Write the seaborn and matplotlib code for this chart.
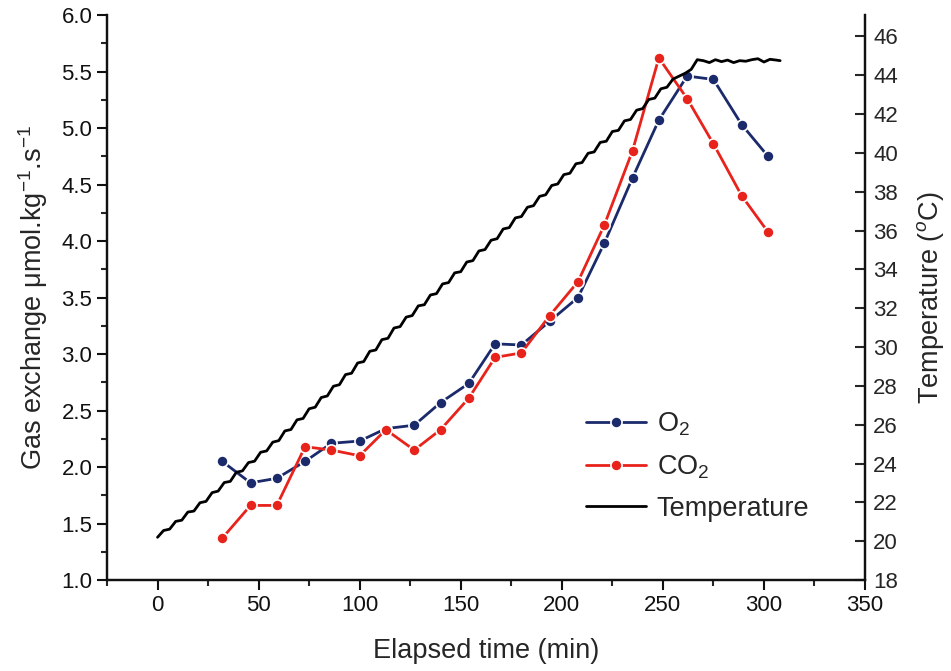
import numpy as np
import pandas as pd
import matplotlib
matplotlib.use('Agg')
import matplotlib.pyplot as plt
import seaborn as sns
from matplotlib.ticker import MultipleLocator

# gas exchange samples
time_gas = [32, 46, 59, 73, 86, 100, 113, 127, 140, 154, 167, 180, 194, 208, 221, 235, 248, 262, 275, 289, 302]
o2 = [2.05, 1.86, 1.90, 2.05, 2.21, 2.23, 2.34, 2.37, 2.57, 2.74, 3.09, 3.08, 3.29, 3.50, 3.98, 4.56, 5.07, 5.46, 5.43, 5.03, 4.75]
co2 = [1.37, 1.66, 1.66, 2.18, 2.15, 2.10, 2.33, 2.15, 2.33, 2.61, 2.97, 3.01, 3.34, 3.64, 4.14, 4.80, 5.62, 5.26, 4.86, 4.40, 4.08]

# temperature trace
time_temp = [0, 3, 6, 9, 12, 15, 18, 21, 24, 27, 30, 33, 36, 39, 42, 45, 48, 51, 54, 57,
             60, 63, 66, 69, 72, 75, 78, 81, 84, 87, 90, 93, 96, 99, 102, 105, 108, 111, 114, 117,
             120, 123, 126, 129, 132, 135, 138, 141, 144, 147, 150, 153, 156, 159, 162, 165, 168, 171, 174, 177,
             180, 183, 186, 189, 192, 195, 198, 201, 204, 207, 210, 213, 216, 219, 222, 225, 228, 231, 234, 237,
             240, 243, 246, 249, 252, 255, 258, 261, 264, 267, 270, 273, 276, 279, 282, 285, 288, 291, 294, 297,
             300, 303, 306, 308]
temp = [20.20, 20.55, 20.62, 21.02, 21.08, 21.50, 21.55, 21.98, 22.05, 22.50, 22.58, 23.02, 23.08, 23.55, 23.62, 24.05, 24.12, 24.58, 24.65, 25.10,
        25.18, 25.68, 25.75, 26.25, 26.32, 26.82, 26.90, 27.40, 27.48, 27.98, 28.06, 28.58, 28.65, 29.18, 29.25, 29.78, 29.85, 30.38, 30.45, 30.98,
        31.05, 31.54, 31.62, 32.12, 32.18, 32.68, 32.75, 33.25, 33.32, 33.82, 33.88, 34.38, 34.45, 34.95, 35.02, 35.50, 35.58, 36.08, 36.15, 36.65,
        36.72, 37.20, 37.28, 37.76, 37.84, 38.32, 38.40, 38.88, 38.95, 39.44, 39.50, 39.98, 40.05, 40.54, 40.60, 41.10, 41.16, 41.65, 41.72, 42.20,
        42.28, 42.75, 42.82, 43.30, 43.38, 43.80, 43.95, 44.10, 44.30, 44.80, 44.75, 44.65, 44.80, 44.70, 44.78, 44.65, 44.75, 44.72, 44.80, 44.85,
        44.68, 44.82, 44.78, 44.75]

df_gas = pd.DataFrame({'time': time_gas, 'O2': o2, 'CO2': co2})
df_temp = pd.DataFrame({'time': time_temp, 'temp': temp})

sns.set_style('ticks')
plt.rcParams['font.family'] = ['Liberation Sans', 'DejaVu Sans']
plt.rcParams['mathtext.fontset'] = 'custom'
plt.rcParams['mathtext.rm'] = 'Liberation Sans'
plt.rcParams['mathtext.it'] = 'Liberation Sans:italic'

navy = '#1b2a6b'
red = '#e8231b'

fig = plt.figure(figsize=(9.51, 6.71), dpi=100)
ax = fig.add_axes([0.1125, 0.1356, 0.7971, 0.842])
ax2 = ax.twinx()

sns.lineplot(data=df_gas, x='time', y='O2', ax=ax, color=navy, lw=2, marker='o',
             markersize=8, markeredgecolor='white', markeredgewidth=1.2, label='O$_2$')
sns.lineplot(data=df_gas, x='time', y='CO2', ax=ax, color=red, lw=2, marker='o',
             markersize=8, markeredgecolor='white', markeredgewidth=1.2, label='CO$_2$')
sns.lineplot(data=df_temp, x='time', y='temp', ax=ax2, color='black', lw=2, label='Temperature')

ax.set_xlim(-25, 350)
ax.set_ylim(1.0, 6.0)
ax2.set_ylim(18, 47.1)

ax.xaxis.set_major_locator(MultipleLocator(50))
ax.xaxis.set_minor_locator(MultipleLocator(25))
ax.yaxis.set_major_locator(MultipleLocator(0.5))
ax.yaxis.set_minor_locator(MultipleLocator(0.25))
ax.yaxis.set_major_formatter(matplotlib.ticker.FormatStrFormatter('%.1f'))
ax2.set_yticks(np.arange(18, 47, 2))

ax.tick_params(axis='both', which='major', direction='out', length=7, width=1.5, labelsize=16, colors='#111111')
ax.tick_params(axis='both', which='minor', direction='out', length=4, width=1.5)
ax2.tick_params(axis='y', which='major', direction='in', length=7, width=1.5, labelsize=16, pad=6)

for a in (ax, ax2):
    a.spines['top'].set_visible(False)
    for s in ('left', 'bottom', 'right'):
        a.spines[s].set_linewidth(1.6)
        a.spines[s].set_color('#111111')

ax.set_xlabel('Elapsed time (min)', fontsize=19.5, labelpad=16)
ax.set_ylabel('Gas exchange μmol.kg$^{-1}$.s$^{-1}$', fontsize=19.5, labelpad=8)
ax2.set_ylabel('Temperature ($^{o}$C)', fontsize=19.5, labelpad=12)

h1, l1 = ax.get_legend_handles_labels()
h2, l2 = ax2.get_legend_handles_labels()
ax.get_legend().remove()
ax2.get_legend().remove()
ax2.legend(h1 + h2, l1 + l2, loc='lower left', bbox_to_anchor=(0.6, 0.06), frameon=False,
           fontsize=19.5, handlelength=2.2, labelspacing=0.55, handletextpad=0.4)

fig.savefig('out.png', dpi=100)
